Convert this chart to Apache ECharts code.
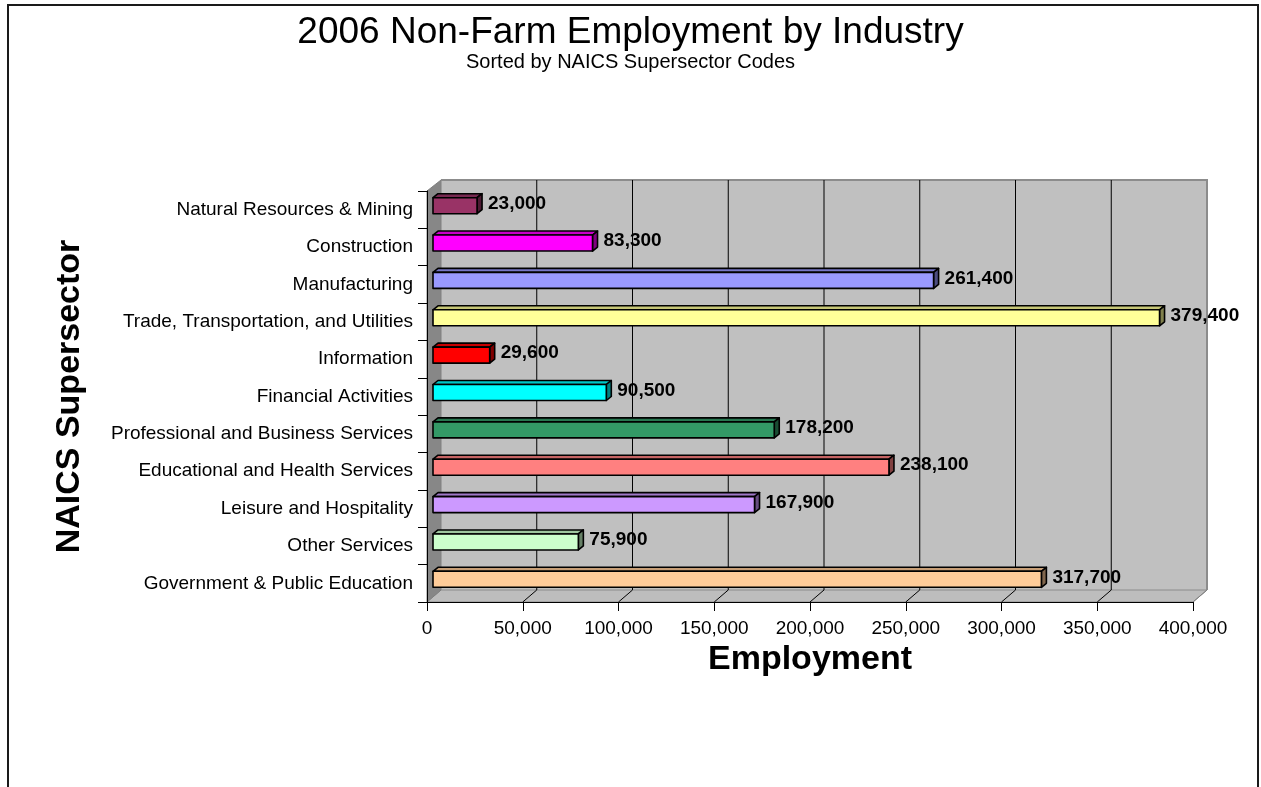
<!DOCTYPE html>
<html>
<head>
<meta charset="utf-8">
<script src="https://cdn.jsdelivr.net/npm/echarts@6/dist/echarts.min.js"></script>
<style>
  html, body { margin: 0; padding: 0; background: #ffffff; }
  #chart { width: 1261px; height: 787px; }
</style>
</head>
<body>
<div id="chart"></div>
<script>
// Supersectors, top to bottom
const categories = [
  'Natural Resources & Mining',
  'Construction',
  'Manufacturing',
  'Trade, Transportation, and Utilities',
  'Information',
  'Financial Activities',
  'Professional and Business Services',
  'Educational and Health Services',
  'Leisure and Hospitality',
  'Other Services',
  'Government & Public Education'
];
// Employment per supersector
const employment = [23000, 83300, 261400, 379400, 29600, 90500, 178200, 238100, 167900, 75900, 317700];
// Fill colour of each bar
const barColors = ['#993366', '#FF00FF', '#9999FF', '#FFFF99', '#FF0000', '#00FFFF', '#339966', '#FF8080', '#CC99FF', '#CCFFCC', '#FFCC99'];
// Value axis ticks
const valueTicks = [0, 50000, 100000, 150000, 200000, 250000, 300000, 350000, 400000];

const FONT = '"Liberation Sans", Arial, sans-serif';
// 3D box depth of the plot (back wall offset from the front plane)
const WALL_DX = 14, WALL_DY = 12;
// Bars sit part-way into the depth
const BAR_OFF_X = 6, BAR_OFF_Y = 4, BAR_H = 16, BAR_DX = 5, BAR_DY = 4;

function shade(hex, f) {
  const n = parseInt(hex.slice(1), 16);
  const r = Math.round(((n >> 16) & 255) * f);
  const g = Math.round(((n >> 8) & 255) * f);
  const b = Math.round((n & 255) * f);
  return 'rgb(' + r + ',' + g + ',' + b + ')';
}
const fmt = v => v.toLocaleString('en-US');

const chart = echarts.init(document.getElementById('chart'), null, { renderer: 'canvas' });

const option = {
  backgroundColor: '#ffffff',
  animation: false,
  title: [
    { text: '2006 Non-Farm Employment by Industry', left: 'center', top: 9,
      textStyle: { fontFamily: FONT, fontSize: 37, fontWeight: 'normal', color: '#000' } },
    { text: 'Sorted by NAICS Supersector Codes', left: 'center', top: 47,
      textStyle: { fontFamily: FONT, fontSize: 20, fontWeight: 'normal', color: '#000' } }
  ],
  graphic: [
    { type: 'rect', z: 100, silent: true,
      shape: { x: 8, y: 5, width: 1250, height: 800 },
      style: { fill: 'none', stroke: '#1a1a1a', lineWidth: 2 } }
  ],
  grid: { left: 427, top: 191, width: 766, height: 411, containLabel: false },
  xAxis: {
    type: 'value', min: 0, max: 400000, interval: 50000, z: 10,
    name: 'Employment', nameLocation: 'middle', nameGap: 41,
    nameTextStyle: { fontFamily: FONT, fontSize: 34, fontWeight: 'bold', color: '#000' },
    axisLine: { show: true, lineStyle: { color: '#000', width: 1 } },
    axisTick: { show: true, length: 9, lineStyle: { color: '#000' } },
    axisLabel: { margin: 17, fontFamily: FONT, fontSize: 19, color: '#000', formatter: v => fmt(v) },
    splitLine: { show: false }
  },
  yAxis: {
    type: 'category', data: categories, inverse: true, z: 10,
    name: 'NAICS Supersector', nameLocation: 'middle', nameGap: 340, nameRotate: 90,
    nameTextStyle: { fontFamily: FONT, fontSize: 34, fontWeight: 'bold', color: '#000' },
    axisLine: { show: true, lineStyle: { color: '#000', width: 1 } },
    axisTick: { show: true, length: 9, alignWithLabel: false, lineStyle: { color: '#000' } },
    axisLabel: { margin: 14, fontFamily: FONT, fontSize: 19, color: '#000' },
    splitLine: { show: false }
  },
  series: [
    {
      // walls and floor of the 3D plot area
      type: 'custom', z: 1, silent: true,
      data: [[0]],
      renderItem: function (params, api) {
        const cs = params.coordSys;
        const x0 = cs.x, y0 = cs.y, x1 = cs.x + cs.width, y1 = cs.y + cs.height;
        return {
          type: 'group',
          children: [
            { type: 'rect', shape: { x: x0 + WALL_DX, y: y0 - WALL_DY + 1, width: cs.width, height: cs.height - 1 },
              style: { fill: '#C0C0C0', stroke: null } },
            { type: 'polygon', shape: { points: [[x0, y0], [x0 + WALL_DX, y0 - WALL_DY + 1], [x0 + WALL_DX, y1 - WALL_DY], [x0, y1]] },
              style: { fill: '#878787', stroke: '#808080', lineWidth: 1 } },
            { type: 'polygon', shape: { points: [[x0, y1], [x0 + WALL_DX, y1 - WALL_DY], [x1 + WALL_DX, y1 - WALL_DY], [x1, y1]] },
              style: { fill: '#BDBDBD', stroke: '#8C8C8C', lineWidth: 1 } },
            { type: 'polyline', shape: { points: [[x0 + WALL_DX, y0 - WALL_DY + 1], [x1 + WALL_DX, y0 - WALL_DY + 1], [x1 + WALL_DX, y1 - WALL_DY]] },
              style: { fill: null, stroke: '#8C8C8C', lineWidth: 2 } }
          ]
        };
      }
    },
    {
      // value gridlines on the back wall and across the floor
      type: 'custom', z: 2, silent: true,
      data: valueTicks.map(v => [v]),
      encode: { x: 0 },
      renderItem: function (params, api) {
        const cs = params.coordSys;
        const v = api.value(0);
        const px = api.coord([v, 0])[0];
        const top = cs.y - WALL_DY + 1, bot = cs.y + cs.height;
        const edge = (v === valueTicks[0] || v === valueTicks[valueTicks.length - 1]);
        const children = [
          { type: 'line', shape: { x1: px + WALL_DX, y1: bot - WALL_DY, x2: px, y2: bot },
            style: { stroke: edge ? '#808080' : '#000', lineWidth: 1 } }
        ];
        if (!edge) {
          children.push({ type: 'line', shape: { x1: px + WALL_DX, y1: top, x2: px + WALL_DX, y2: bot - WALL_DY },
            style: { stroke: '#000', lineWidth: 1 } });
        }
        return { type: 'group', children: children };
      }
    },
    {
      // 3D bars with value labels
      type: 'custom', z: 3,
      data: employment.map((v, i) => [v, i]),
      encode: { x: 0, y: 1 },
      renderItem: function (params, api) {
        const v = api.value(0), i = api.value(1);
        const p0 = api.coord([0, i]);
        const p1 = api.coord([v, i]);
        const fx0 = p0[0] + BAR_OFF_X, fx1 = p1[0] + BAR_OFF_X;
        const fy0 = p0[1] - BAR_OFF_Y - BAR_H / 2, fy1 = fy0 + BAR_H;
        const c = barColors[i];
        const line = { stroke: '#000', lineWidth: 1.6, lineJoin: 'round' };
        return {
          type: 'group',
          children: [
            { type: 'polygon', shape: { points: [[fx0, fy0], [fx1, fy0], [fx1 + BAR_DX, fy0 - BAR_DY], [fx0 + BAR_DX, fy0 - BAR_DY]] },
              style: Object.assign({ fill: shade(c, 0.78) }, line) },
            { type: 'polygon', shape: { points: [[fx1, fy0], [fx1 + BAR_DX, fy0 - BAR_DY], [fx1 + BAR_DX, fy1 - BAR_DY], [fx1, fy1]] },
              style: Object.assign({ fill: shade(c, 0.5) }, line) },
            { type: 'rect', shape: { x: fx0, y: fy0, width: fx1 - fx0, height: BAR_H },
              style: Object.assign({ fill: c }, line) },
            { type: 'text', x: fx1 + BAR_DX + 6, y: (fy0 + fy1) / 2 - 2,
              style: { text: fmt(v), fill: '#000', font: 'bold 19px ' + FONT, textAlign: 'left', textVerticalAlign: 'middle' } }
          ]
        };
      }
    }
  ]
};

chart.setOption(option);
</script>
</body>
</html>
